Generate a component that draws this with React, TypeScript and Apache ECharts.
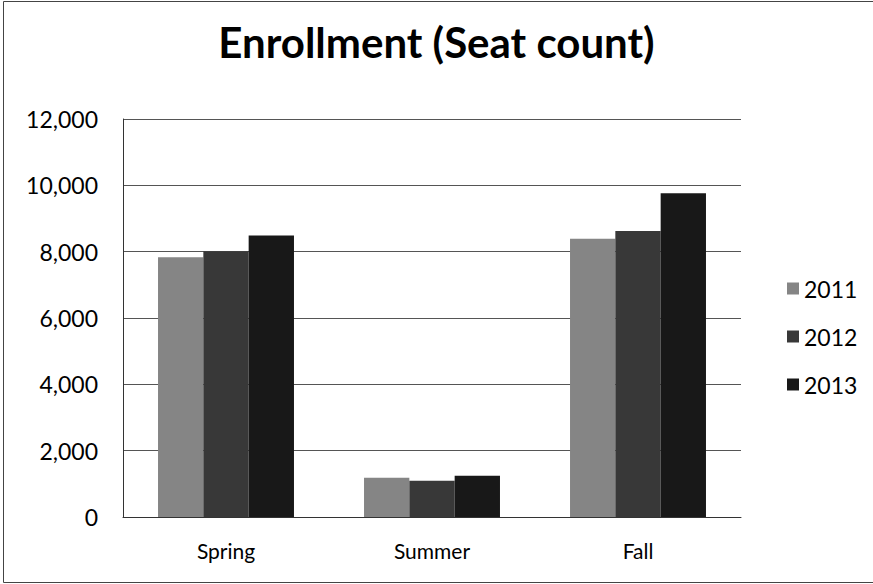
import React, { useEffect, useRef } from "react";
import * as echarts from "echarts";

const categories = ["Spring", "Summer", "Fall"];
const years = ["2011", "2012", "2013"];
const values2011 = [7830, 1180, 8390];
const values2012 = [8010, 1090, 8620];
const values2013 = [8490, 1240, 9760];
const yTicks = [0, 2000, 4000, 6000, 8000, 10000, 12000];

const colors = ["#858585", "#383838", "#181818"];
const FONT = "Lato, 'Open Sans', sans-serif";

export default function App() {
  const ref = useRef<HTMLDivElement>(null);
  useEffect(() => {
    if (!ref.current) return;
    const chart = echarts.init(ref.current, undefined, { renderer: "svg" });
    const seriesData = [values2011, values2012, values2013];
    chart.setOption({
      animation: false,
      backgroundColor: "#ffffff",
      textStyle: { fontFamily: FONT },
      title: {
        text: "Enrollment (Seat count)",
        left: "center",
        top: 12,
        textStyle: { fontSize: 42, fontWeight: "bold", color: "#000", fontFamily: FONT, lineHeight: 50 },
      },
      graphic: [
        {
          type: "rect",
          shape: { x: 3.5, y: 1.5, width: 880, height: 581 },
          style: { fill: "none", stroke: "#444", lineWidth: 1 },
          silent: true,
        },
      ],
      legend: {
        orient: "vertical",
        left: 782,
        top: 272,
        itemGap: 25,
        itemWidth: 12,
        itemHeight: 12,
        icon: "rect",
        data: years,
        textStyle: { fontSize: 23, color: "#000", fontFamily: FONT, lineHeight: 23 },
      },
      grid: { left: 123, right: 132, top: 119, bottom: 67, containLabel: false },
      xAxis: {
        type: "category",
        data: categories,
        axisLine: { lineStyle: { color: "#333" } },
        axisTick: { show: false },
        axisLabel: { fontSize: 21, color: "#000", margin: 23, fontFamily: FONT },
      },
      yAxis: {
        type: "value",
        min: 0,
        max: 12000,
        interval: 2000,
        axisLine: { show: true, lineStyle: { color: "#333" } },
        axisTick: { show: false },
        splitLine: { lineStyle: { color: "#555", width: 1 } },
        axisLabel: {
          fontSize: 23,
          color: "#000",
          margin: 25,
          fontFamily: FONT,
          formatter: (v: number) => (yTicks.includes(v) ? v.toLocaleString("en-US") : ""),
        },
      },
      series: years.map((y, i) => ({
        name: y,
        type: "bar",
        data: seriesData[i],
        barGap: "0%",
        barCategoryGap: "34%",
        itemStyle: { color: colors[i] },
      })),
    });
    return () => chart.dispose();
  }, []);
  return <div ref={ref} style={{ width: 873, height: 584, position: "absolute", left: 0, top: 0 }} />;
}
